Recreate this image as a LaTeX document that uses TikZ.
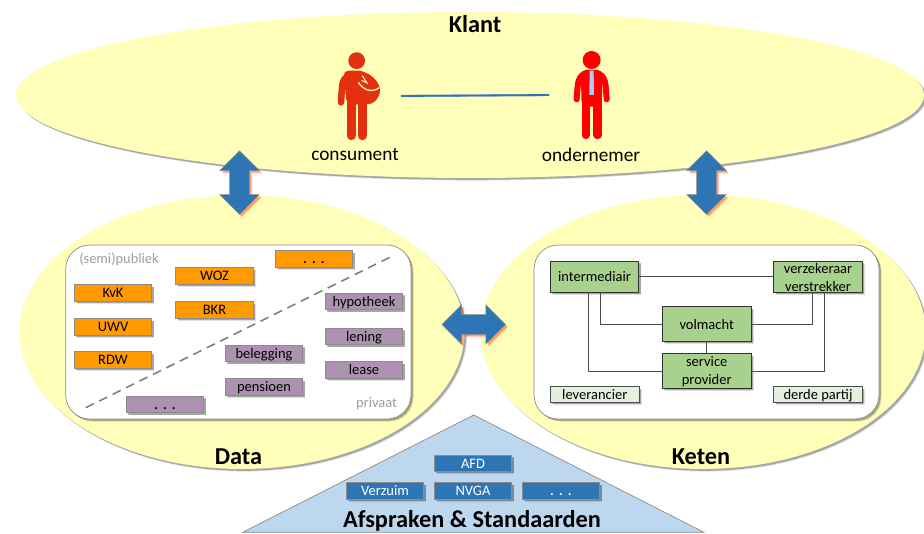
\documentclass[tikz,border=0pt]{standalone}
\usepackage{fontspec}
\setmainfont{Carlito}
\usetikzlibrary{shapes.geometric,shapes.arrows,shadows}
\definecolor{ell}{HTML}{FFFFB9}
\definecolor{arr}{HTML}{2E75B6}
\definecolor{org}{HTML}{FF9A00}
\definecolor{pur}{HTML}{AC92B0}
\definecolor{grn}{HTML}{A9D18E}
\definecolor{lgrn}{HTML}{E4F0DD}
\definecolor{tri}{HTML}{BDD7EE}
\definecolor{cons}{HTML}{E53010}
\definecolor{bdr}{HTML}{8C8C8C}
\definecolor{tie}{HTML}{A9CCF0}
\newcommand{\tdots}{\fontsize{17}{15}\selectfont .\hspace{4.6pt}.\hspace{4.6pt}.}
\tikzset{
  softshadow/.style={
    general shadow={shadow xshift=2.6pt,shadow yshift=-2.6pt,fill=black,opacity=.12},
    general shadow={shadow xshift=1.8pt,shadow yshift=-1.8pt,fill=black,opacity=.26}},
  redshadow/.style={
    general shadow={shadow xshift=3pt,shadow yshift=-3pt,fill=red!60!white,opacity=.2},
    general shadow={shadow xshift=2pt,shadow yshift=-2pt,fill=orange!60!red,opacity=.45}},
  bigell/.style={shape=ellipse,fill=ell,inner sep=0pt,softshadow},
  panel/.style={draw=bdr,line width=.7pt,fill=white,rounded corners=24pt,softshadow},
  tag/.style={draw=bdr,line width=.9pt,minimum width=77.5pt,minimum height=16.5pt,inner sep=0pt,
    text height=10.5pt,text depth=.9pt,font=\fontsize{14.5}{15}\selectfont,softshadow},
  orangebox/.style={tag,fill=org},
  purplebox/.style={tag,fill=pur},
  bluebox/.style={tag,fill=arr,text=white},
  greenbox/.style={draw=black!80,line width=.8pt,fill=grn,minimum width=88.5pt,inner sep=0pt,align=center,
    font=\fontsize{14.5}{18}\selectfont,softshadow},
  palebox/.style={draw=black!70,line width=.8pt,fill=lgrn,minimum width=88.5pt,minimum height=15.5pt,inner sep=0pt,
    text height=10.5pt,text depth=.9pt,font=\fontsize{14.5}{15}\selectfont,softshadow},
  link/.style={draw=black!70,line width=.8pt},
  dblarrow/.style={shape=double arrow,fill=arr,draw=bdr,line width=.5pt,minimum height=63.5pt,minimum width=39pt,
    inner sep=9.7pt,double arrow head extend=9.7pt,double arrow tip angle=90,redshadow},
  title/.style={font=\bfseries\fontsize{24.3}{26}\selectfont},
  caption/.style={font=\fontsize{19.3}{21}\selectfont},
  note/.style={text=black!38,font=\fontsize{14.4}{15}\selectfont},
}
\begin{document}
\begin{tikzpicture}[x=1pt,y=-1pt]
\useasboundingbox (0,0) rectangle (924,533);
\clip (0,0) rectangle (924,533);
% ellipses
\node[bigell,minimum width=445pt,minimum height=274pt] (data) at (242,332) {};
\node[bigell,minimum width=445pt,minimum height=274pt] (keten) at (703,332) {};
\node[bigell,minimum width=908pt,minimum height=166pt] (klant) at (470,95) {};
% triangle
\filldraw[fill=tri,draw=bdr,line width=.7pt] (473.7,415) -- (704,532.3) -- (242.7,532.3) -- cycle;
% panels
\path[panel] (65.7,245) rectangle (411,419);
\path[panel] (534,245) rectangle (879,419);
% titles
\node[title] (tklant) at (475,24) {Klant};
\node[title] (tdata) at (238.5,457) {Data};
\node[title] (tketen) at (701,457) {Keten};
\node[title] (tafspr) at (472,520.5) {Afspraken \& Standaarden};
% consument figure
\begin{scope}[shift={(325,45)},x=.3333pt,y=-.3333pt,cons]
  \fill (95,47) circle [radius=8.4pt];
  \fill[rounded corners=5pt] (55,77) -- (120,77) -- (125,178) -- (65,178) -- cycle;
  \draw[line width=6.5pt,line cap=round] (67,95) .. controls (52,105) .. (48,172);
  \draw[line width=9pt,line cap=round] (78.5,170) -- (78.5,272);
  \draw[line width=9pt,line cap=round] (111.5,170) -- (111.5,272);
  \fill (103,78) .. controls (150,85) and (168,125) .. (165,140) .. controls (160,165) and (145,178) .. (125,178) -- (120,150) -- cycle;
  \draw[ell,line width=1.3pt] (100,112) .. controls (115,135) and (140,145) .. (163,128);
  \draw[ell,line width=1pt] (112,92) -- (126,114) -- (110,106);
\end{scope}
% ondernemer figure
\begin{scope}[shift={(560,45)},x=.3333pt,y=-.3333pt,red]
  \fill (95,45) circle [radius=9pt];
  \fill[rounded corners=5pt] (62,75) -- (128,75) -- (125,185) -- (65,185) -- cycle;
  \draw[line width=6pt,line cap=round] (67,90) .. controls (54,105) .. (50,163);
  \draw[line width=6pt,line cap=round] (123,90) .. controls (136,105) .. (140,163);
  \draw[line width=8.3pt,line cap=round] (77.5,175) -- (77.5,270);
  \draw[line width=8.3pt,line cap=round] (112.5,175) -- (112.5,270);
  \fill[tie] (89,77) -- (101,77) -- (102,150) -- (88,150) -- cycle;
\end{scope}
\node[caption] (consument) at (355,154.5) {consument};
\node[caption] (ondernemer) at (591,154.5) {ondernemer};
\coordinate (c1) at (401,96);
\coordinate (c2) at (549,95);
\draw[tri!70!gray,line width=2.4pt] (c1) -- (c2);
\draw[arr,line width=1.8pt] (c1) -- (c2);
% data panel
\draw[black!50,line width=1.6pt,dash pattern=on 9pt off 6pt] (85.7,407.7) -- (393,255.7);
\node[note] (publiek) at (119,259) {(semi)publiek};
\node[note] (privaat) at (376.5,403.5) {privaat};
\node[orangebox] (odots) at (314,259) {\tdots};
\node[orangebox] (woz) at (214.5,276) {WOZ};
\node[orangebox] (kvk) at (113,293) {KvK};
\node[orangebox] (bkr) at (214.5,310) {BKR};
\node[orangebox] (uwv) at (113,327) {UWV};
\node[orangebox] (rdw) at (113,360) {RDW};
\node[purplebox] (hyp) at (364,301.5) {hypotheek};
\node[purplebox] (len) at (364,336.5) {lening};
\node[purplebox] (lea) at (364,370) {lease};
\node[purplebox] (bel) at (264,353.5) {belegging};
\node[purplebox] (pen) at (264,387) {pensioen};
\node[purplebox] (pdots) at (165,404.5) {\tdots};
% keten panel
\node[greenbox,minimum height=31pt,text height=10.9pt,text depth=.6pt] (inter) at (594.5,276.5) {intermediair};
\node[greenbox,minimum height=31pt,text height=30pt,text depth=.4pt] (verz) at (818,276.5) {verzekeraar\\verstrekker};
\node[greenbox,minimum height=34.3pt,text height=10.9pt,text depth=.6pt] (volm) at (706.7,323.9) {volmacht};
\node[greenbox,minimum height=34.3pt,text height=27.2pt,text depth=.4pt] (serv) at (706.7,370.9) {service\\provider};
\node[palebox] (lev) at (594.8,394.5) {leverancier};
\node[palebox] (der) at (818,394.5) {derde partij};
\draw[link] (inter.east) -- (verz.west);
\draw[link] ([xshift=5.8pt]inter.south) |- (volm.west);
\draw[link] ([xshift=-5.8pt]inter.south) |- (serv.west);
\draw[link] ([xshift=-5.7pt]verz.south) |- (volm.east);
\draw[link] ([xshift=6pt]verz.south) |- (serv.east);
\draw[link] (volm.south) -- (serv.north);
% standards
\node[bluebox] (afd) at (473,463.3) {AFD};
\node[bluebox] (verzuim) at (385,491) {Verzuim};
\node[bluebox] (nvga) at (473,491) {NVGA};
\node[bluebox] (bdots) at (561,491) {\tdots};
% arrows
\node[dblarrow,rotate=90] (a1) at (239.5,182.6) {};
\node[dblarrow,rotate=90] (a2) at (706.5,182.6) {};
\node[dblarrow] (a3) at (473.7,324.5) {};
\end{tikzpicture}
\end{document}
